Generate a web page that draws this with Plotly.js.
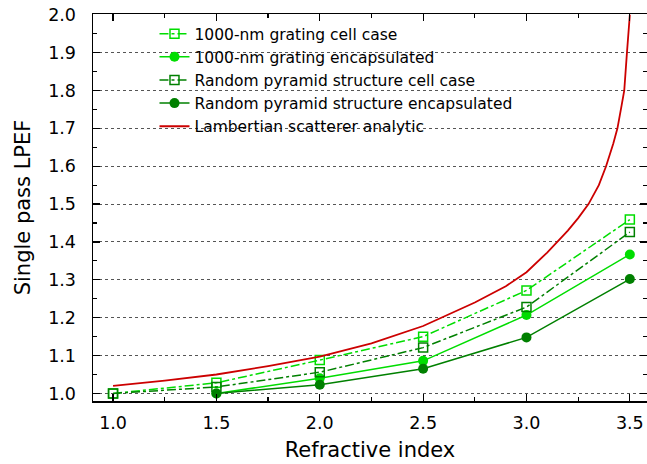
<!DOCTYPE html>
<html>
<head>
<meta charset="utf-8">
<script src="https://cdn.plot.ly/plotly-3.0.1.min.js"></script>
<style>html,body{margin:0;padding:0;background:#fff;}#chart{width:647px;height:464px;}</style>
</head>
<body>
<div id="chart"></div>
<script>
// Refractive index positions for simulated structures
const nIndex = [1.0, 1.5, 2.0, 2.5, 3.0, 3.5];
const nIndexEnc = [1.5, 2.0, 2.5, 3.0, 3.5];

// Single pass LPEF values
const gratingCell = [1.0, 1.028, 1.088, 1.150, 1.272, 1.459];
const gratingEnc = [1.0, 1.040, 1.086, 1.207, 1.367];
const pyramidCell = [1.0, 1.017, 1.056, 1.121, 1.228, 1.426];
const pyramidEnc = [1.0, 1.023, 1.065, 1.148, 1.302];

// Lambertian scatterer analytic curve
const lambN = [1.0, 1.25, 1.5, 1.75, 2.0, 2.25, 2.5, 2.75, 2.9, 3.0, 3.1, 3.2, 3.25, 3.3, 3.35, 3.385, 3.42, 3.44, 3.46, 3.473, 3.486, 3.494, 3.5];
const lambV = [1.020, 1.034, 1.050, 1.072, 1.097, 1.132, 1.178, 1.240, 1.283, 1.320, 1.372, 1.430, 1.463, 1.500, 1.550, 1.600, 1.660, 1.700, 1.760, 1.800, 1.900, 1.950, 2.000];

const names = [
  "1000-nm grating cell case",
  "1000-nm grating encapsulated",
  "Random pyramid structure cell case",
  "Random pyramid structure encapsulated",
  "Lambertian scatterer analytic"
];
const xTicks = [1.0, 1.5, 2.0, 2.5, 3.0, 3.5];
const yTicks = [1.0, 1.1, 1.2, 1.3, 1.4, 1.5, 1.6, 1.7, 1.8, 1.9, 2.0];

const LIGHT = "#00dd00", DARK = "#008000", RED = "#cc0000";
const FONT = "DejaVu Sans, Liberation Sans, Arial, sans-serif";

const traces = [
  {x: nIndex, y: gratingCell, name: names[0], mode: "lines+markers",
   line: {color: LIGHT, width: 1.5, dash: "dashdot"},
   marker: {symbol: "square-open", size: 9, color: LIGHT, line: {width: 1.5, color: LIGHT}}},
  {x: nIndexEnc, y: gratingEnc, name: names[1], mode: "lines+markers",
   line: {color: LIGHT, width: 1.5},
   marker: {symbol: "circle", size: 10, color: LIGHT}},
  {x: nIndex, y: pyramidCell, name: names[2], mode: "lines+markers",
   line: {color: DARK, width: 1.5, dash: "dashdot"},
   marker: {symbol: "square-open", size: 9, color: DARK, line: {width: 1.5, color: DARK}}},
  {x: nIndexEnc, y: pyramidEnc, name: names[3], mode: "lines+markers",
   line: {color: DARK, width: 1.5},
   marker: {symbol: "circle", size: 10, color: DARK}},
  {x: lambN, y: lambV, name: names[4], mode: "lines",
   line: {color: RED, width: 1.8}}
];

const layout = {
  width: 647, height: 464,
  margin: {l: 93, r: 0, t: 14, b: 63},
  paper_bgcolor: "#fff", plot_bgcolor: "#fff",
  font: {family: FONT, color: "#000", size: 16},
  showlegend: true,
  legend: {x: 0.111, y: 0.992, xanchor: "left", yanchor: "top",
           bgcolor: "rgba(0,0,0,0)", borderwidth: 0,
           font: {family: FONT, size: 15.5, color: "#000"}, tracegroupgap: 0},
  xaxis: {
    range: [0.903, 3.583], tickvals: xTicks, tickformat: ".1f",
    ticks: "inside", ticklen: 7, tickwidth: 1.2, tickcolor: "#000",
    showline: true, linecolor: "#000", linewidth: 1.5, mirror: "allticks",
    showgrid: false, zeroline: false, ticklabelstandoff: 5,
    minor: {tickvals: [1.25, 1.75, 2.25, 2.75, 3.25], ticks: "inside", ticklen: 4, tickcolor: "#000", showgrid: false},
    tickfont: {family: FONT, size: 17.5},
    title: {text: "Refractive index", font: {family: FONT, size: 21}, standoff: 11}
  },
  yaxis: {
    range: [0.98, 2.002], tickvals: yTicks, tickformat: ".1f",
    ticks: "inside", ticklen: 7, tickwidth: 1.2, tickcolor: "#000",
    showline: true, linecolor: "#000", linewidth: 1.5, mirror: "allticks",
    showgrid: true, gridcolor: "#555", gridwidth: 1, griddash: "dot", zeroline: false,
    ticklabelstandoff: 12,
    minor: {dtick: 0.05, tick0: 1.0, ticks: "inside", ticklen: 4, tickcolor: "#000", showgrid: false},
    tickfont: {family: FONT, size: 17.5},
    title: {text: "Single pass LPEF", font: {family: FONT, size: 21}, standoff: 12}
  }
};

Plotly.newPlot("chart", traces, layout, {displayModeBar: false, staticPlot: true});
</script>
</body>
</html>
